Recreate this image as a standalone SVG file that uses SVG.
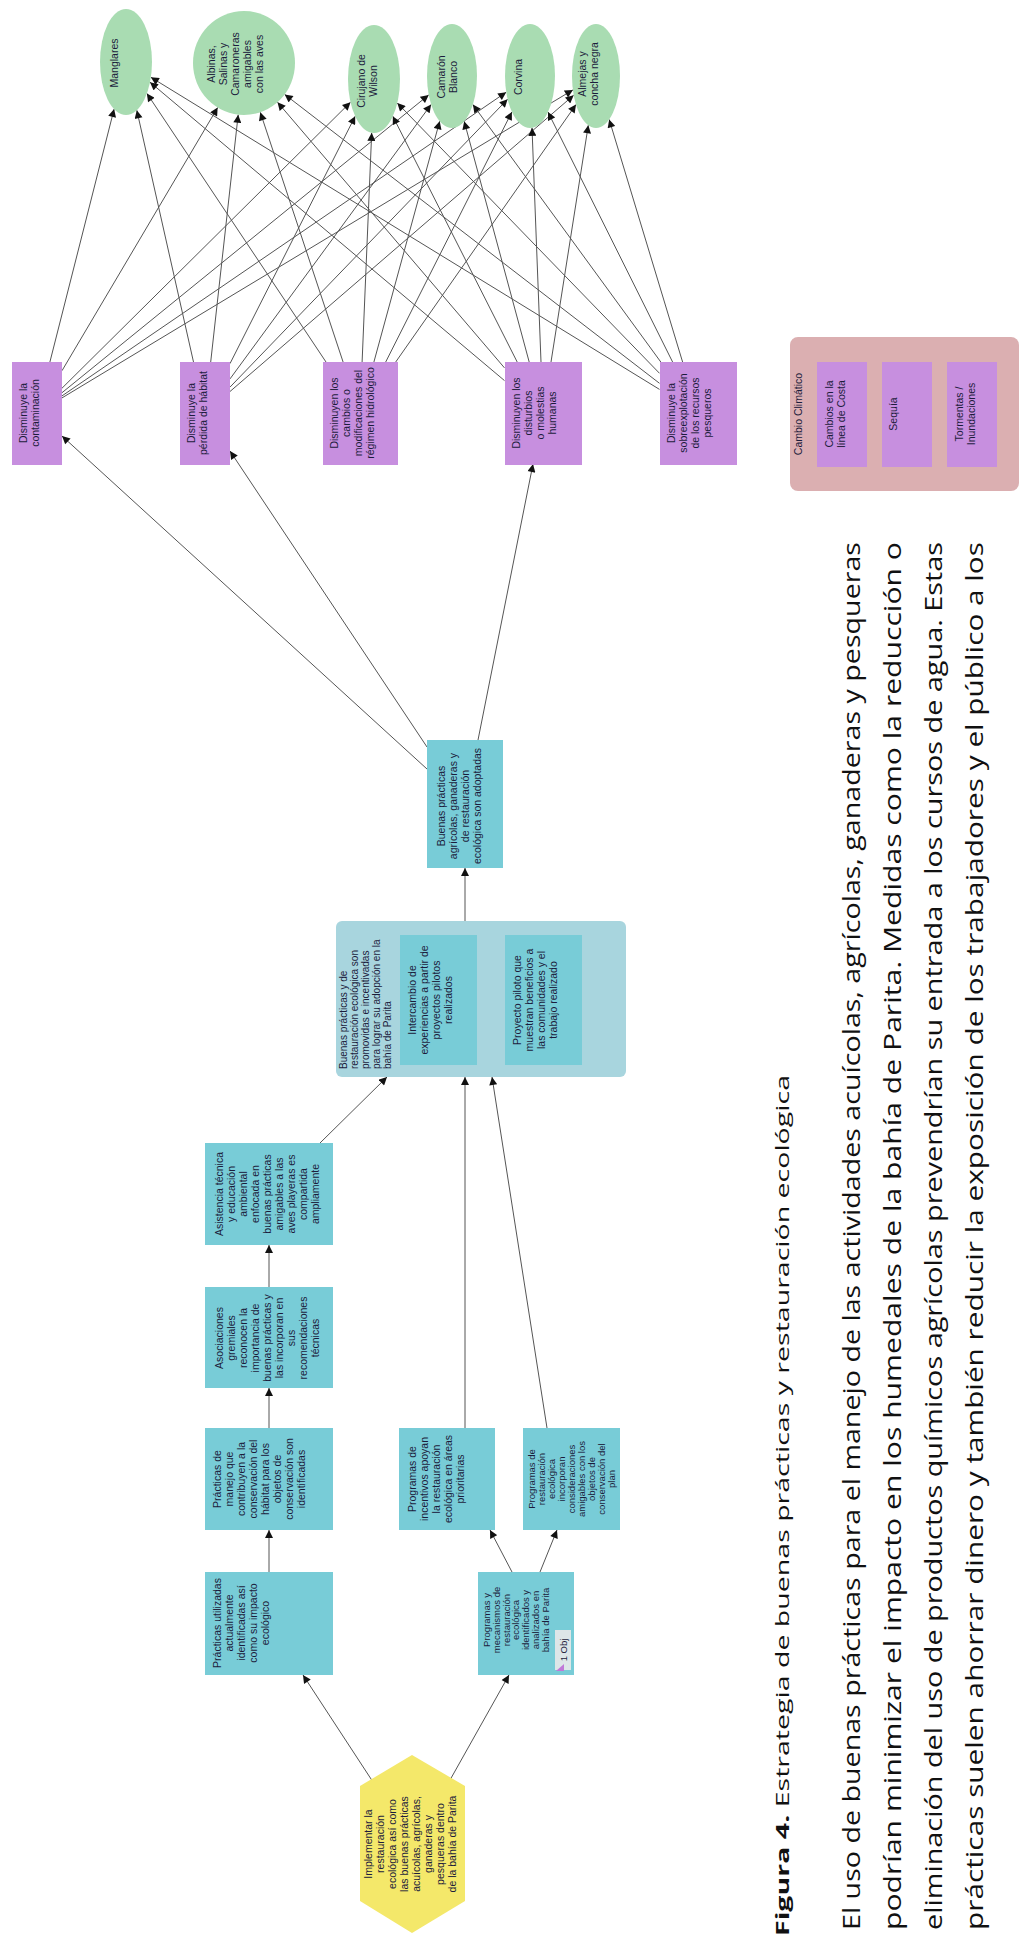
<svg xmlns="http://www.w3.org/2000/svg" width="1021" height="1938" viewBox="0 0 1021 1938">
<style>
.e{fill:#a9dcb2}
.p{fill:#c78fdf}
.b{fill:#78ccd7}
.t{font-family:"Liberation Sans",Arial,sans-serif;font-size:10.5px;fill:#1c1c3c;text-anchor:middle}
.s{font-size:9.5px}
.ln{stroke:#555;stroke-width:1;fill:none;marker-end:url(#ah)}
.body{font-family:"Open Sans","Noto Sans",sans-serif;font-size:24px;fill:#111}
</style>
<defs>
<marker id="ah" viewBox="0 0 10 10" refX="10" refY="5" markerWidth="9" markerHeight="8" markerUnits="userSpaceOnUse" orient="auto"><path d="M0,0 L10,5 L0,10 z" fill="#111"/></marker>
</defs>
<rect width="1021" height="1938" fill="#fff"/>
<g id="connectors">
<line class="ln" x1="49.9" y1="362" x2="114.1" y2="109.1"/>
<line class="ln" x1="62" y1="370.7" x2="217.7" y2="107.5"/>
<line class="ln" x1="62" y1="388.2" x2="350.5" y2="102.2"/>
<line class="ln" x1="62" y1="392.7" x2="428.7" y2="94.9"/>
<line class="ln" x1="62" y1="395.9" x2="506.2" y2="92.2"/>
<line class="ln" x1="62" y1="397.9" x2="572.9" y2="89.9"/>
<line class="ln" x1="193.5" y1="362" x2="136.8" y2="110.2"/>
<line class="ln" x1="210.7" y1="362" x2="238.2" y2="114.7"/>
<line class="ln" x1="230" y1="363.6" x2="355.2" y2="116.2"/>
<line class="ln" x1="230" y1="378.9" x2="431.1" y2="104.5"/>
<line class="ln" x1="230" y1="387.1" x2="507.6" y2="99.2"/>
<line class="ln" x1="230" y1="391.5" x2="573.7" y2="95.2"/>
<line class="ln" x1="326" y1="362" x2="146.9" y2="93.4"/>
<line class="ln" x1="343.1" y1="362" x2="260.3" y2="112.3"/>
<line class="ln" x1="362.1" y1="362" x2="371.7" y2="132.8"/>
<line class="ln" x1="373.9" y1="362" x2="439.7" y2="121.2"/>
<line class="ln" x1="385.7" y1="362" x2="511.9" y2="111.9"/>
<line class="ln" x1="395.7" y1="362" x2="576" y2="104.6"/>
<line class="ln" x1="504.5" y1="380.6" x2="150" y2="82.2"/>
<line class="ln" x1="504.5" y1="367.9" x2="277.5" y2="102.2"/>
<line class="ln" x1="517.2" y1="362" x2="392.8" y2="116.2"/>
<line class="ln" x1="529.2" y1="362" x2="464.2" y2="121.3"/>
<line class="ln" x1="541" y1="362" x2="532" y2="127.8"/>
<line class="ln" x1="551" y1="362" x2="588.3" y2="125.2"/>
<line class="ln" x1="659.5" y1="389.4" x2="150.9" y2="77.3"/>
<line class="ln" x1="659.5" y1="383.3" x2="284.7" y2="94.4"/>
<line class="ln" x1="659.5" y1="373.3" x2="397.3" y2="103"/>
<line class="ln" x1="660.8" y1="362" x2="472.9" y2="104.6"/>
<line class="ln" x1="672.6" y1="362" x2="548" y2="112.1"/>
<line class="ln" x1="682.6" y1="362" x2="609.2" y2="119.5"/>
<line class="ln" x1="427" y1="769" x2="62" y2="436"/>
<line class="ln" x1="427" y1="747" x2="230" y2="451"/>
<line class="ln" x1="478" y1="740" x2="533" y2="464"/>
<line class="ln" x1="465" y1="921" x2="465" y2="868"/>
<line class="ln" x1="320" y1="1143" x2="387" y2="1077"/>
<line class="ln" x1="465" y1="1428" x2="465" y2="1077"/>
<line class="ln" x1="547" y1="1428" x2="492" y2="1077"/>
<line class="ln" x1="512" y1="1572" x2="490" y2="1530"/>
<line class="ln" x1="540" y1="1572" x2="557" y2="1530"/>
<line class="ln" x1="269" y1="1572" x2="269" y2="1530"/>
<line class="ln" x1="269" y1="1428" x2="269" y2="1388"/>
<line class="ln" x1="269" y1="1287" x2="269" y2="1245"/>
<line class="ln" x1="373" y1="1782" x2="303" y2="1675"/>
<line class="ln" x1="450" y1="1780" x2="509" y2="1675"/>
</g>
<g id="n-manglares"><ellipse class="e" cx="126" cy="62" rx="26" ry="53"/>
<text class="t" transform="rotate(-90 118 63)" x="118" y="63">Manglares</text></g>
<g id="n-aves"><ellipse class="e" cx="244" cy="63" rx="51" ry="52"/>
<text class="t" transform="rotate(-90 215 64)" x="215" y="64"><tspan x="215" y="64">Albinas,</tspan><tspan x="215" dy="12">Salinas y</tspan><tspan x="215" dy="12">Camaroneras</tspan><tspan x="215" dy="12">amigables</tspan><tspan x="215" dy="12">con las aves</tspan></text></g>
<g id="n-cirujano"><ellipse class="e" cx="374" cy="79" rx="26" ry="54"/>
<text class="t" transform="rotate(-90 365 81)" x="365" y="81"><tspan x="365" y="81">Cirujano de</tspan><tspan x="365" dy="12">Wilson</tspan></text></g>
<g id="n-camaron"><ellipse class="e" cx="452" cy="76" rx="25" ry="52"/>
<text class="t" transform="rotate(-90 445 77)" x="445" y="77"><tspan x="445" y="77">Camarón</tspan><tspan x="445" dy="12">Blanco</tspan></text></g>
<g id="n-corvina"><ellipse class="e" cx="530" cy="76" rx="25" ry="52"/>
<text class="t" transform="rotate(-90 522 77)" x="522" y="77">Corvina</text></g>
<g id="n-almejas"><ellipse class="e" cx="596" cy="76" rx="24" ry="52"/>
<text class="t" transform="rotate(-90 586 74)" x="586" y="74"><tspan x="586" y="74">Almejas y</tspan><tspan x="586" dy="12">concha negra</tspan></text></g>

<g id="n-contaminacion"><rect class="p" x="12" y="362" width="50" height="103"/>
<text class="t" transform="rotate(-90 27 413)" x="27" y="413"><tspan x="27" y="413">Disminuye la</tspan><tspan x="27" dy="12">contaminación</tspan></text></g>
<g id="n-habitat"><rect class="p" x="180" y="362" width="50" height="103"/>
<text class="t" transform="rotate(-90 195 413)" x="195" y="413"><tspan x="195" y="413">Disminuye la</tspan><tspan x="195" dy="12">pérdida de hábitat</tspan></text></g>
<g id="n-hidrologico"><rect class="p" x="323" y="362" width="75" height="103"/>
<text class="t" transform="rotate(-90 338 413)" x="338" y="413"><tspan x="338" y="413">Disminuyen los</tspan><tspan x="338" dy="12">cambios o</tspan><tspan x="338" dy="12">modificaciones del</tspan><tspan x="338" dy="12">régimen hidrológico</tspan></text></g>
<g id="n-disturbios"><rect class="p" x="505" y="362" width="77" height="103"/>
<text class="t" transform="rotate(-90 520 413)" x="520" y="413"><tspan x="520" y="413">Disminuyen los</tspan><tspan x="520" dy="12">disturbios</tspan><tspan x="520" dy="12">o molestias</tspan><tspan x="520" dy="12">humanas</tspan></text></g>
<g id="n-sobreexplotacion"><rect class="p" x="660" y="362" width="77" height="103"/>
<text class="t" transform="rotate(-90 675 413)" x="675" y="413"><tspan x="675" y="413">Disminuye la</tspan><tspan x="675" dy="12">sobreexplotación</tspan><tspan x="675" dy="12">de los recursos</tspan><tspan x="675" dy="12">pesqueros</tspan></text></g>

<g id="n-cambio-climatico"><rect x="790" y="337" width="229" height="154" rx="8" fill="#dbafb1"/>
<text class="t" transform="rotate(-90 802 414)" x="802" y="414">Cambio Climático</text>
<rect class="p" x="817" y="362" width="50" height="105"/>
<text class="t" transform="rotate(-90 833 414)" x="833" y="414"><tspan x="833" y="414">Cambios en la</tspan><tspan x="833" dy="12">línea de Costa</tspan></text>
<rect class="p" x="882" y="362" width="50" height="105"/>
<text class="t" transform="rotate(-90 897 414)" x="897" y="414">Sequía</text>
<rect class="p" x="947" y="362" width="50" height="105"/>
<text class="t" transform="rotate(-90 963 414)" x="963" y="414"><tspan x="963" y="414">Tormentas /</tspan><tspan x="963" dy="12">Inundaciones</tspan></text></g>

<g id="n-adoptadas"><rect class="b" x="427" y="740" width="76" height="128"/>
<text class="t" transform="rotate(-90 445 806)" x="445" y="806"><tspan x="445" y="806">Buenas prácticas</tspan><tspan x="445" dy="12">agrícolas, ganaderas y</tspan><tspan x="445" dy="12">de restauración</tspan><tspan x="445" dy="12">ecológica son adoptadas</tspan></text></g>

<g id="n-promovidas"><rect x="336" y="921" width="290" height="156" rx="6" fill="#a8d5de"/>
<text class="t" style="text-anchor:start;font-size:10px" transform="rotate(-90 347 1069)" x="347" y="1069"><tspan x="347" y="1069">Buenas prácticas y de</tspan><tspan x="347" dy="11">restauración ecológica son</tspan><tspan x="347" dy="11">promovidas e incentivadas</tspan><tspan x="347" dy="11">para lograr su adopción en la</tspan><tspan x="347" dy="11">bahía de Parita</tspan></text>
<rect class="b" x="400" y="935" width="77" height="130"/>
<text class="t" transform="rotate(-90 416 1000)" x="416" y="1000"><tspan x="416" y="1000">Intercambio de</tspan><tspan x="416" dy="12">experiencias a partir de</tspan><tspan x="416" dy="12">proyectos pilotos</tspan><tspan x="416" dy="12">realizados</tspan></text>
<rect class="b" x="505" y="935" width="77" height="130"/>
<text class="t" transform="rotate(-90 521 1000)" x="521" y="1000"><tspan x="521" y="1000">Proyecto piloto que</tspan><tspan x="521" dy="12">muestran beneficios a</tspan><tspan x="521" dy="12">las comunidades y el</tspan><tspan x="521" dy="12">trabajo realizado</tspan></text></g>

<g id="n-asistencia"><rect class="b" x="205" y="1143" width="128" height="102"/>
<text class="t" transform="rotate(-90 223 1194)" x="223" y="1194"><tspan x="223" y="1194">Asistencia técnica</tspan><tspan x="223" dy="12">y educación</tspan><tspan x="223" dy="12">ambiental</tspan><tspan x="223" dy="12">enfocada en</tspan><tspan x="223" dy="12">buenas prácticas</tspan><tspan x="223" dy="12">amigables a las</tspan><tspan x="223" dy="12">aves playeras es</tspan><tspan x="223" dy="12">compartida</tspan><tspan x="223" dy="12">ampliamente</tspan></text></g>
<g id="n-asociaciones"><rect class="b" x="205" y="1287" width="128" height="101"/>
<text class="t" transform="rotate(-90 223 1338)" x="223" y="1338"><tspan x="223" y="1338">Asociaciones</tspan><tspan x="223" dy="12">gremiales</tspan><tspan x="223" dy="12">reconocen la</tspan><tspan x="223" dy="12">importancia de</tspan><tspan x="223" dy="12">buenas prácticas y</tspan><tspan x="223" dy="12">las incorporan en</tspan><tspan x="223" dy="12">sus</tspan><tspan x="223" dy="12">recomendaciones</tspan><tspan x="223" dy="12">técnicas</tspan></text></g>
<g id="n-manejo"><rect class="b" x="205" y="1428" width="128" height="102"/>
<text class="t" transform="rotate(-90 221 1479)" x="221" y="1479"><tspan x="221" y="1479">Prácticas de</tspan><tspan x="221" dy="12">manejo que</tspan><tspan x="221" dy="12">contribuyen a la</tspan><tspan x="221" dy="12">conservación del</tspan><tspan x="221" dy="12">hábitat para los</tspan><tspan x="221" dy="12">objetos de</tspan><tspan x="221" dy="12">conservación son</tspan><tspan x="221" dy="12">identificadas</tspan></text></g>
<g id="n-utilizadas"><rect class="b" x="205" y="1572" width="128" height="103"/>
<text class="t" transform="rotate(-90 221 1623)" x="221" y="1623"><tspan x="221" y="1623">Prácticas utilizadas</tspan><tspan x="221" dy="12">actualmente</tspan><tspan x="221" dy="12">identificadas así</tspan><tspan x="221" dy="12">como su impacto</tspan><tspan x="221" dy="12">ecológico</tspan></text></g>
<g id="n-incentivos"><rect class="b" x="399" y="1428" width="96" height="102"/>
<text class="t" transform="rotate(-90 416 1479)" x="416" y="1479"><tspan x="416" y="1479">Programas de</tspan><tspan x="416" dy="12">incentivos apoyan</tspan><tspan x="416" dy="12">la restauración</tspan><tspan x="416" dy="12">ecológica en áreas</tspan><tspan x="416" dy="12">prioritarias</tspan></text></g>
<g id="n-restauracion"><rect class="b" x="523" y="1428" width="97" height="102"/>
<text class="t s" transform="rotate(-90 535 1479)" x="535" y="1479"><tspan x="535" y="1479">Programas de</tspan><tspan x="535" dy="10">restauración</tspan><tspan x="535" dy="10">ecológica</tspan><tspan x="535" dy="10">incorporan</tspan><tspan x="535" dy="10">consideraciones</tspan><tspan x="535" dy="10">amigables con los</tspan><tspan x="535" dy="10">objetos de</tspan><tspan x="535" dy="10">conservación del</tspan><tspan x="535" dy="10">plan</tspan></text></g>
<g id="n-mecanismos"><rect class="b" x="478" y="1572" width="96" height="103"/>
<text class="t s" transform="rotate(-90 490 1620)" x="490" y="1620"><tspan x="490" y="1620">Programas y</tspan><tspan x="490" dy="9.8">mecanismos de</tspan><tspan x="490" dy="9.8">restauración</tspan><tspan x="490" dy="9.8">ecológica</tspan><tspan x="490" dy="9.8">identificados y</tspan><tspan x="490" dy="9.8">analizados en</tspan><tspan x="490" dy="9.8">bahía de Parita</tspan></text>
<rect x="555" y="1630" width="16" height="40" fill="#dde6e8"/>
<text class="t s" transform="rotate(-90 567 1650)" x="567" y="1650">1 Obj</text>
<path d="M556,1671 L564,1664 L564,1671 z" fill="#c078d8"/></g>
<g id="n-implementar"><polygon points="412,1755 465,1786 465,1901 412,1933 360,1901 360,1786" fill="#f4e86a"/>
<text class="t" transform="rotate(-90 372 1844)" x="372" y="1844"><tspan x="372" y="1844">Implementar la</tspan><tspan x="372" dy="12">restauración</tspan><tspan x="372" dy="12">ecológica así como</tspan><tspan x="372" dy="12">las buenas prácticas</tspan><tspan x="372" dy="12">acuícolas, agrícolas,</tspan><tspan x="372" dy="12">ganaderas y</tspan><tspan x="372" dy="12">pesqueras dentro</tspan><tspan x="372" dy="12">de la bahía de Parita</tspan></text></g>

<g id="caption">
<text class="body" style="font-size:18px" transform="rotate(-90 789 1936)" x="789" y="1936" textLength="861" lengthAdjust="spacingAndGlyphs"><tspan font-weight="bold">Figura 4.</tspan> Estrategia de buenas prácticas y restauración ecológica</text>
<text class="body" transform="rotate(-90 860 1930)" x="860" y="1930" textLength="1388" lengthAdjust="spacingAndGlyphs">El uso de buenas prácticas para el manejo de las actividades acuícolas, agrícolas, ganaderas y pesqueras</text>
<text class="body" transform="rotate(-90 901 1930)" x="901" y="1930" textLength="1388" lengthAdjust="spacingAndGlyphs">podrían minimizar el impacto en los humedales de la bahía de Parita.  Medidas como la reducción o</text>
<text class="body" transform="rotate(-90 942 1930)" x="942" y="1930" textLength="1388" lengthAdjust="spacingAndGlyphs">eliminación del uso de productos químicos agrícolas prevendrían su entrada a los cursos de agua. Estas</text>
<text class="body" transform="rotate(-90 983 1930)" x="983" y="1930" textLength="1388" lengthAdjust="spacingAndGlyphs">prácticas suelen ahorrar dinero y también reducir la exposición de los trabajadores y el público a los</text>
</g>
</svg>
